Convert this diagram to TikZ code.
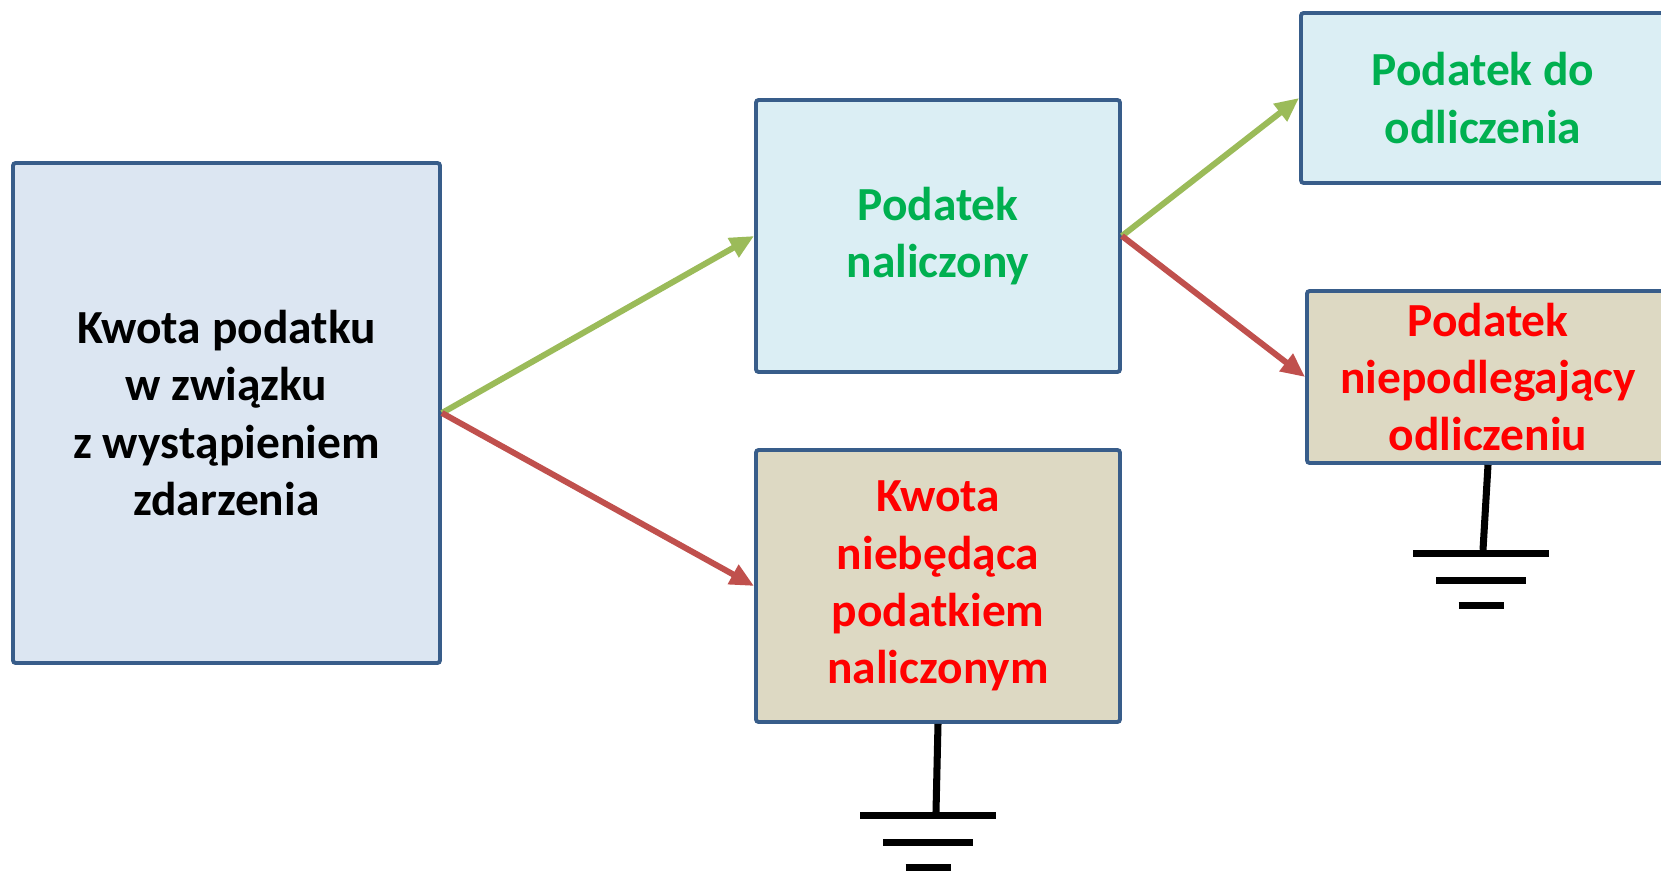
\documentclass[tikz,border=0pt]{standalone}
\usepackage{fontspec}
\setmainfont{Carlito}
\usepackage{tikz}
\usetikzlibrary{arrows.meta,positioning}
\definecolor{ramka}{HTML}{385D8A}
\definecolor{blekit}{HTML}{DCE6F2}
\definecolor{turkus}{HTML}{DBEEF4}
\definecolor{piasek}{HTML}{DDD9C3}
\definecolor{zielony}{HTML}{00B050}
\definecolor{czerwony}{HTML}{FF0000}
\definecolor{zielonastrz}{HTML}{9BBB59}
\definecolor{czerwonastrz}{HTML}{C0504D}
\tikzset{>={Triangle[length=0.48cm,width=0.42cm]}}
\tikzset{
  blok/.style={draw=ramka, line width=2.2pt, rounded corners=1.5pt, align=center,
    inner sep=0pt, font=\fontsize{27}{32.6}\selectfont\bfseries},
  strzalka/.style={->, line width=3.4pt},
  ziemia/.style={line width=4pt},
}

\begin{document}
\begin{tikzpicture}
\useasboundingbox (0,0) rectangle (33.22,17.44);
\clip (0,0) rectangle (33.22,17.44);

\node[blok, fill=blekit, minimum width=8.54cm, minimum height=10cm] (kwota) at (4.53,9.18)
  {Kwota podatku\\w związku\\z wystąpieniem\\zdarzenia};

\node[blok, fill=turkus, text=zielony, minimum width=7.28cm, minimum height=5.44cm] (naliczony) at (18.76,12.72)
  {Podatek\\naliczony};
\node[blok, fill=piasek, text=czerwony, minimum width=7.28cm, minimum height=5.44cm] (niebedaca) at (18.76,5.72)
  {Kwota\\niebędąca\\podatkiem\\naliczonym};

\node[blok, fill=turkus, text=zielony, minimum width=7.28cm, minimum height=3.4cm] (odliczenia) at (29.66,15.48)
  {Podatek do\\odliczenia};
\node[blok, fill=piasek, text=czerwony, minimum width=7.24cm, minimum height=3.44cm] (niepodlegajacy) at (29.76,9.9)
  {Podatek\\niepodlegający\\odliczeniu};

\draw[strzalka, color=zielonastrz] (kwota.east) -- (naliczony.west);
\draw[strzalka, color=czerwonastrz] (kwota.east) -- (niebedaca.west);
\draw[strzalka, color=zielonastrz] (naliczony.east) -- (odliczenia.west);
\draw[strzalka, color=czerwonastrz] (naliczony.east) -- (niepodlegajacy.west);

% uziemienia
\draw[ziemia] (niebedaca.south) -- ++(-0.04,-1.76) coordinate (z1);
\draw[ziemia] (niepodlegajacy.south) -- ++(-0.1,-1.70) coordinate (z2);
\foreach \z/\s in {z1/-0.16, z2/-0.04}
  \foreach \w/\d in {2.72/0.08, 1.8/0.61, 0.9/1.12}
    \draw[ziemia] (\z) ++(\s-\w/2,-\d) -- ++(\w,0);

\end{tikzpicture}
\end{document}
